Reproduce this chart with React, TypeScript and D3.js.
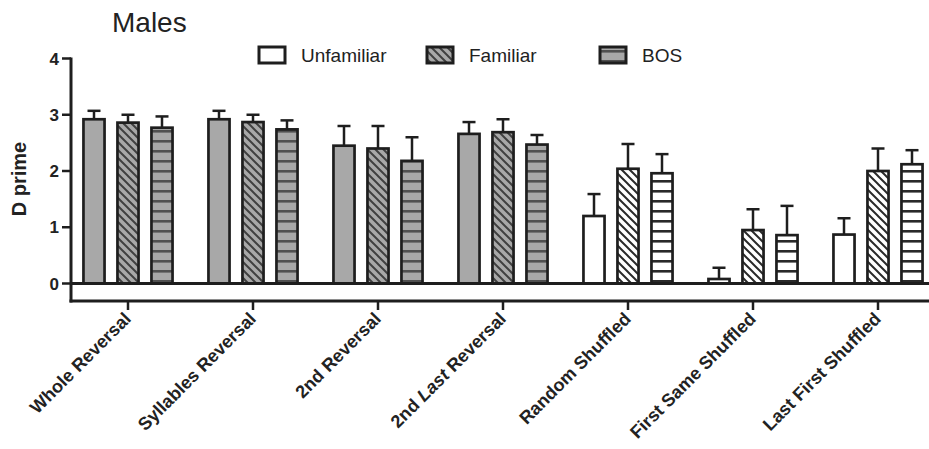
import React from 'react';
import * as d3 from 'd3';

const categories = [
  'Whole Reversal',
  'Syllables Reversal',
  '2nd Reversal',
  '2nd Last Reversal',
  'Random Shuffled',
  'First Same Shuffled',
  'Last First Shuffled',
];
const series = ['Unfamiliar', 'Familiar', 'BOS'];

// mean D prime per category
const unfamiliar = [2.92, 2.92, 2.45, 2.66, 1.2, 0.08, 0.87];
const familiar = [2.86, 2.87, 2.4, 2.69, 2.04, 0.95, 2.0];
const bos = [2.77, 2.74, 2.18, 2.47, 1.96, 0.86, 2.12];

// error bar (upper only)
const unfamiliarErr = [0.15, 0.15, 0.35, 0.21, 0.39, 0.2, 0.29];
const familiarErr = [0.14, 0.13, 0.4, 0.23, 0.44, 0.37, 0.4];
const bosErr = [0.2, 0.16, 0.42, 0.17, 0.34, 0.52, 0.25];

const yTicks = [0, 1, 2, 3, 4];

const W = 929;
const H = 449;
const FONT = 'Arial, "Liberation Sans", Helvetica, sans-serif';
const INK = '#1e1e1e';
const GRAY = '#a8a8a8';

const App = () => {
  const x0 = d3.scaleBand().domain(categories).range([65.5, 940.5]).padding(0);
  const x1 = d3
    .scaleBand()
    .domain(series)
    .range([-51, 51])
    .paddingInner(0.38)
    .paddingOuter(0.19);
  const y = d3.scaleLinear().domain([0, 4]).range([283.5, 58.5]);

  const values = [unfamiliar, familiar, bos];
  const errs = [unfamiliarErr, familiarErr, bosErr];

  const axisX = 71;
  const axisBottom = 301;

  const fillFor = (s: number, cat: string) => {
    const bg = cat.includes('Reversal') ? 'g' : 'w';
    if (s === 0) return bg === 'g' ? GRAY : '#ffffff';
    if (s === 1) return `url(#diag-${bg})`;
    return `url(#horiz-${bg})`;
  };

  const cx = (c: string) => x0(c)! + x0.bandwidth() / 2;

  const legendX = [259, 427, 600];

  return (
    <svg
      width={W}
      height={H}
      style={{ position: 'absolute', left: 0, top: 0, background: '#fff' }}
      fontFamily={FONT}
    >
      <defs>
        {[
          ['g', GRAY],
          ['w', '#ffffff'],
        ].map(([k, bg]) => (
          <React.Fragment key={k}>
            <pattern id={`diag-${k}`} patternUnits="userSpaceOnUse" width={8} height={8}>
              <rect width={8} height={8} fill={bg} />
              <path
                d="M-2,-2 L10,10 M-2,6 L2,10 M6,-2 L10,2"
                stroke={k === 'g' ? '#404040' : '#2a2a2a'}
                strokeWidth={2}
              />
            </pattern>
            <pattern id={`horiz-${k}`} patternUnits="userSpaceOnUse" width={10} height={10}>
              <rect width={10} height={10} fill={bg} />
              <rect y={0} width={10} height={2.6} fill={k === 'g' ? '#505050' : '#2a2a2a'} />
            </pattern>
          </React.Fragment>
        ))}
      </defs>

      <text x={112} y={32} fontSize={28} fill="#222">
        Males
      </text>

      {/* legend */}
      {series.map((s, i) => (
        <g key={s}>
          <rect
            x={legendX[i]}
            y={47}
            width={26}
            height={16}
            fill={i === 0 ? '#fff' : i === 1 ? 'url(#diag-g)' : 'url(#horiz-g)'}
            stroke={INK}
            strokeWidth={3}
          />
          <text x={legendX[i] + 42} y={62} fontSize={19} fill="#222">
            {s}
          </text>
        </g>
      ))}

      {/* bars */}
      {categories.map((c, ci) => (
        <g key={c} transform={`translate(${cx(c)},0)`}>
          {series.map((s, si) => {
            const v = values[si][ci];
            const e = errs[si][ci];
            const bx = x1(s)!;
            const bw = x1.bandwidth();
            const mid = bx + bw / 2;
            return (
              <g key={s}>
                <line
                  x1={mid}
                  x2={mid}
                  y1={y(v)}
                  y2={y(v + e)}
                  stroke={INK}
                  strokeWidth={2.5}
                />
                <line
                  x1={mid - 6.5}
                  x2={mid + 6.5}
                  y1={y(v + e)}
                  y2={y(v + e)}
                  stroke={INK}
                  strokeWidth={2.5}
                />
                <rect
                  x={bx}
                  y={y(v)}
                  width={bw}
                  height={y(0) - y(v)}
                  fill={fillFor(si, c)}
                  stroke={INK}
                  strokeWidth={2.7}
                />
              </g>
            );
          })}
        </g>
      ))}

      {/* y axis */}
      <line x1={axisX} x2={axisX} y1={y(4) - 1} y2={axisBottom + 1.5} stroke={INK} strokeWidth={3} />
      <line x1={axisX} x2={W} y1={y(0)} y2={y(0)} stroke={INK} strokeWidth={3} />
      {yTicks.map((t) => (
        <g key={t}>
          <line x1={62} x2={axisX} y1={y(t)} y2={y(t)} stroke={INK} strokeWidth={2.5} />
          <text
            x={59}
            y={y(t)}
            dy="0.36em"
            textAnchor="end"
            fontSize={17}
            fontWeight="bold"
            fill="#222"
          >
            {t}
          </text>
        </g>
      ))}
      <text
        transform={`translate(26,179) rotate(-90)`}
        textAnchor="middle"
        fontSize={20}
        fontWeight="bold"
        fill="#222"
      >
        D prime
      </text>

      {/* x axis */}
      <line x1={axisX - 1.5} x2={W} y1={axisBottom} y2={axisBottom} stroke={INK} strokeWidth={3} />
      {categories.map((c) => (
        <g key={c}>
          <line x1={cx(c)} x2={cx(c)} y1={axisBottom} y2={310} stroke={INK} strokeWidth={2.5} />
          <text
            transform={`translate(${cx(c) + 4},320) rotate(-45)`}
            textAnchor="end"
            fontSize={18}
            fontWeight="bold"
            fill="#222"
          >
            {c === '2nd Last Reversal' ? (
              <>
                <tspan>2nd </tspan>
                <tspan fontStyle="italic">Last</tspan>
                <tspan> Reversal</tspan>
              </>
            ) : (
              c
            )}
          </text>
        </g>
      ))}
    </svg>
  );
};

export default App;
